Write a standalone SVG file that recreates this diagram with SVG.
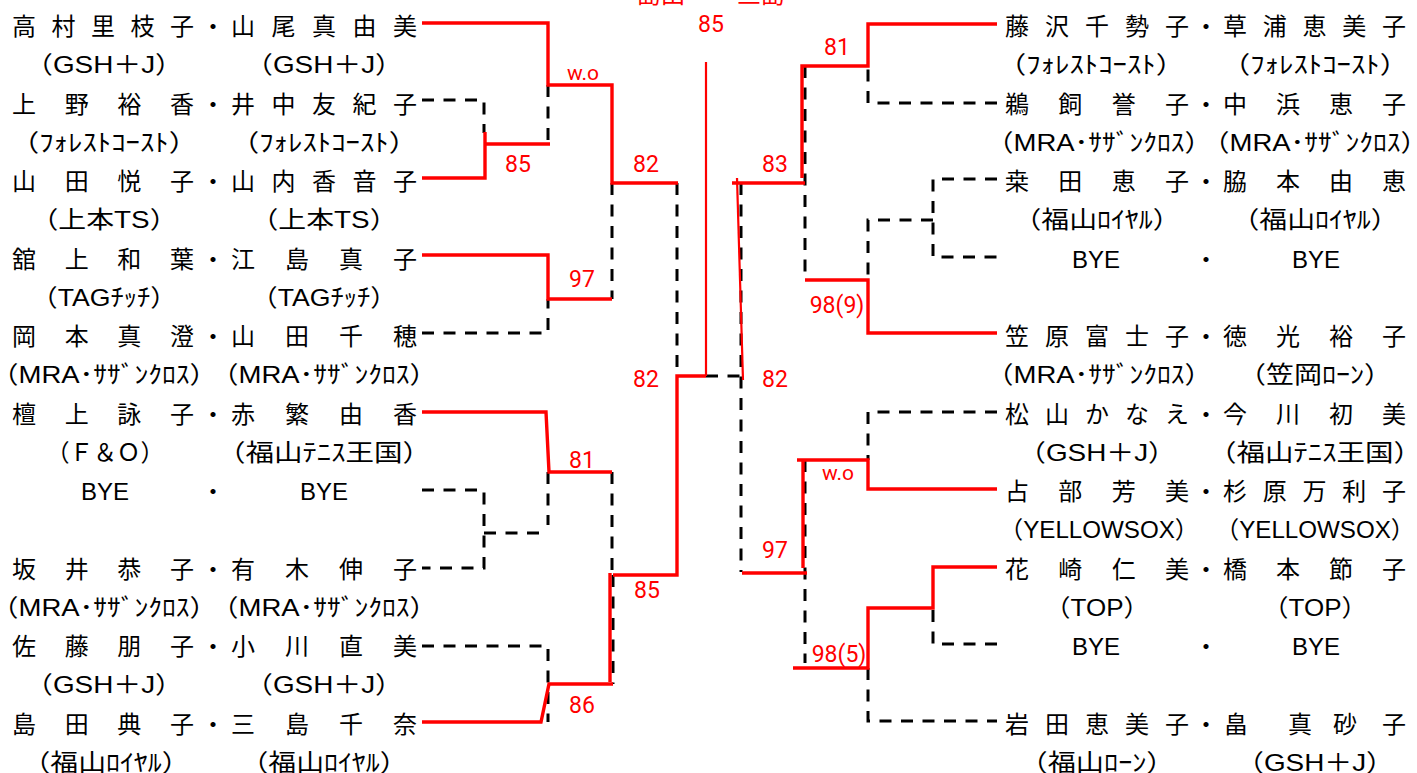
<svg xmlns="http://www.w3.org/2000/svg" width="1417" height="773" viewBox="0 0 1417 773">
<style>
.nm{font-family:"Liberation Sans","Noto Sans CJK JP",sans-serif;font-size:24px;fill:#000;text-anchor:middle}
.af{font-family:"Liberation Sans","Noto Sans CJK JP",sans-serif;font-size:24px;fill:#000;text-anchor:middle}
.sc{font-family:Roboto,"Liberation Sans",sans-serif;font-size:23px;fill:#f00;text-anchor:middle}
.wo{font-size:21px}
.top{font-family:"Noto Sans CJK JP",sans-serif;font-size:24px;fill:#f00}
.win{fill:none;stroke:#f00;stroke-width:3.4}
.thin{stroke-width:2.2}
.lose{fill:none;stroke:#000;stroke-width:3;stroke-dasharray:12 9.5}
</style>
<defs>
<text id="gsh" class="af" textLength="158" lengthAdjust="spacingAndGlyphs">（GSH＋J）</text>
<text id="frc" class="af" textLength="187" lengthAdjust="spacingAndGlyphs">（ﾌｫﾚｽﾄｺｰｽﾄ）</text>
<text id="mra" class="af" textLength="226" lengthAdjust="spacingAndGlyphs">（MRA･ｻｻﾞﾝｸﾛｽ）</text>
<text id="uts" class="af" textLength="147" lengthAdjust="spacingAndGlyphs">（上本TS）</text>
<text id="tag" class="af" textLength="146" lengthAdjust="spacingAndGlyphs">（TAGﾁｯﾁ）</text>
<text id="fto" class="af" textLength="214" lengthAdjust="spacingAndGlyphs">（福山ﾃﾆｽ王国）</text>
<text id="fro" class="af" textLength="167" lengthAdjust="spacingAndGlyphs">（福山ﾛｲﾔﾙ）</text>
<text id="yel" class="af" textLength="200" lengthAdjust="spacingAndGlyphs">（YELLOWSOX）</text>
<text id="tp" class="af" textLength="105" lengthAdjust="spacingAndGlyphs">（TOP）</text>
</defs>
<rect width="1417" height="773" fill="#fff"/>
<g id="champion">
<text class="top" x="637" y="3">島田</text>
<text class="top" x="737" y="3">三島</text>
</g>
<g id="connectors">
<g class="lose">
<path d="M422 100H484V133"/>
<path d="M548 85V144"/>
<path d="M612 183V299"/>
<path d="M422 333H548V299"/>
<path d="M677 183V376"/>
<path d="M706 376H742"/>
<path d="M741 183V572"/>
<path d="M548 472V525"/>
<path d="M422 490H484V568H422M484 533H546"/>
<path d="M612 472V575"/>
<path d="M613 575V684"/>
<path d="M422 646H548V722"/>
<path d="M997 103H868V66"/>
<path d="M805 66V280"/>
<path d="M997 179H933V257H997"/>
<path d="M933 220H868V280"/>
<path d="M997 412H868V460"/>
<path d="M805 460V663"/>
<path d="M997 644H933V608"/>
<path d="M868 668V721H997"/>
</g>
<g class="win">
<path d="M422 23H548V85H612V183H678"/>
<path d="M422 178H485V132M485 144H550"/>
<path d="M422 255H548V299H612"/>
<path d="M613 575H677V376H706"/>
<path class="thin" d="M706 376V62"/>
<path d="M610 573V682"/>
<path d="M422 412H546L549 472H612"/>
<path d="M422 722H541L549 684H613"/>
<path class="thin" d="M737 178L743 380"/>
<path d="M732 183H805"/>
<path d="M997 24H868V66H802V178"/>
<path d="M805 280H868V333H997"/>
<path d="M797 460H868V489H997"/>
<path d="M803 460V568"/>
<path d="M742 573H807"/>
<path d="M793 668H868V608H933V567H997"/>
</g>
<g id="scores">
<text class="sc" x="711" y="32">85</text>
<text class="sc wo" x="583" y="80">w.o</text>
<text class="sc" x="518" y="172">85</text>
<text class="sc" x="646" y="172">82</text>
<text class="sc" x="582" y="287">97</text>
<text class="sc" x="646" y="387">82</text>
<text class="sc" x="775" y="172">83</text>
<text class="sc" x="775" y="387">82</text>
<text class="sc" x="837" y="55">81</text>
<text class="sc" x="837" y="313">98(9)</text>
<text class="sc" x="582" y="468">81</text>
<text class="sc" x="647" y="598">85</text>
<text class="sc" x="582" y="713">86</text>
<text class="sc wo" x="838" y="480">w.o</text>
<text class="sc" x="775" y="558">97</text>
<text class="sc" x="839" y="662">98(5)</text>
</g>
</g>
<g id="L1"><text class="nm" x="24 63.5 103 142.5 182 213 243 283.5 324 364.5 405" y="35">高村里枝子・山尾真由美</text><use href="#gsh" x="104" y="73"/><use href="#gsh" x="324" y="73"/></g>
<g id="L2"><text class="nm" x="24 76.7 129.3 182 213 243 283.5 324 364.5 405" y="112.5">上野裕香・井中友紀子</text><use href="#frc" x="104" y="150.5"/><use href="#frc" x="324" y="150.5"/></g>
<g id="L3"><text class="nm" x="24 76.7 129.3 182 213 243 283.5 324 364.5 405" y="190">山田悦子・山内香音子</text><use href="#uts" x="104" y="228"/><use href="#uts" x="324" y="228"/></g>
<g id="L4"><text class="nm" x="24 76.7 129.3 182 213 243 297 351 405" y="267.5">舘上和葉・江島真子</text><use href="#tag" x="104" y="305.5"/><use href="#tag" x="324" y="305.5"/></g>
<g id="L5"><text class="nm" x="24 76.7 129.3 182 213 243 297 351 405" y="345">岡本真澄・山田千穂</text><use href="#mra" x="104" y="383"/><use href="#mra" x="324" y="383"/></g>
<g id="L6"><text class="nm" x="24 76.7 129.3 182 213 243 297 351 405" y="422.5">檀上詠子・赤繁由香</text><text class="af" x="105" y="460.5" textLength="118" lengthAdjust="spacingAndGlyphs">（Ｆ＆Ｏ）</text><use href="#fto" x="324" y="460.5"/></g>
<g id="L7"><text class="nm" x="105" y="500">BYE</text><text class="nm" x="213" y="500">・</text><text class="nm" x="324" y="500">BYE</text></g>
<g id="L8"><text class="nm" x="24 76.7 129.3 182 213 243 297 351 405" y="577.5">坂井恭子・有木伸子</text><use href="#mra" x="104" y="615.5"/><use href="#mra" x="324" y="615.5"/></g>
<g id="L9"><text class="nm" x="24 76.7 129.3 182 213 243 297 351 405" y="655">佐藤朋子・小川直美</text><use href="#gsh" x="104" y="693"/><use href="#gsh" x="324" y="693"/></g>
<g id="L10"><text class="nm" x="24 76.7 129.3 182 213 243 297 351 405" y="732.5">島田典子・三島千奈</text><use href="#fro" x="106" y="770.5"/><use href="#fro" x="324" y="770.5"/></g>
<g id="R1"><text class="nm" x="1017 1057 1097 1137 1177 1206 1235 1274.75 1314.5 1354.25 1394" y="35">藤沢千勢子・草浦恵美子</text><use href="#frc" x="1091" y="73"/><use href="#frc" x="1315" y="73"/></g>
<g id="R2"><text class="nm" x="1017 1070.3 1123.7 1177 1206 1235 1288 1341 1394" y="112.5">鵜飼誉子・中浜恵子</text><use href="#mra" x="1099" y="150.5"/><use href="#mra" x="1315" y="150.5"/></g>
<g id="R3"><text class="nm" x="1017 1070.3 1123.7 1177 1206 1235 1288 1341 1394" y="190">桒田恵子・脇本由恵</text><use href="#fro" x="1097" y="228"/><use href="#fro" x="1315" y="228"/></g>
<g id="R4"><text class="nm" x="1096" y="267.5">BYE</text><text class="nm" x="1206" y="267.5">・</text><text class="nm" x="1316" y="267.5">BYE</text></g>
<g id="R5"><text class="nm" x="1017 1057 1097 1137 1177 1206 1235 1288 1341 1394" y="345">笠原富士子・徳光裕子</text><use href="#mra" x="1099" y="383"/><text class="af" x="1315" y="383" textLength="154" lengthAdjust="spacingAndGlyphs">（笠岡ﾛｰﾝ）</text></g>
<g id="R6"><text class="nm" x="1017 1057 1097 1137 1177 1206 1235 1288 1341 1394" y="422.5">松山かなえ・今川初美</text><use href="#gsh" x="1097" y="460.5"/><use href="#fto" x="1315" y="460.5"/></g>
<g id="R7"><text class="nm" x="1017 1070.3 1123.7 1177 1206 1235 1274.75 1314.5 1354.25 1394" y="500">占部芳美・杉原万利子</text><use href="#yel" x="1099" y="538"/><use href="#yel" x="1315" y="538"/></g>
<g id="R8"><text class="nm" x="1017 1070.3 1123.7 1177 1206 1235 1288 1341 1394" y="577.5">花崎仁美・橋本節子</text><use href="#tp" x="1097" y="615.5"/><use href="#tp" x="1315" y="615.5"/></g>
<g id="R9"><text class="nm" x="1096" y="655">BYE</text><text class="nm" x="1206" y="655">・</text><text class="nm" x="1316" y="655">BYE</text></g>
<g id="R10"><text class="nm" x="1017 1057 1097 1137 1177 1206 1236 1300 1345 1394" y="732.5">岩田恵美子・畠真砂子</text><text class="af" x="1097" y="770.5" textLength="155" lengthAdjust="spacingAndGlyphs">（福山ﾛｰﾝ）</text><use href="#gsh" x="1315" y="770.5"/></g>
</svg>
